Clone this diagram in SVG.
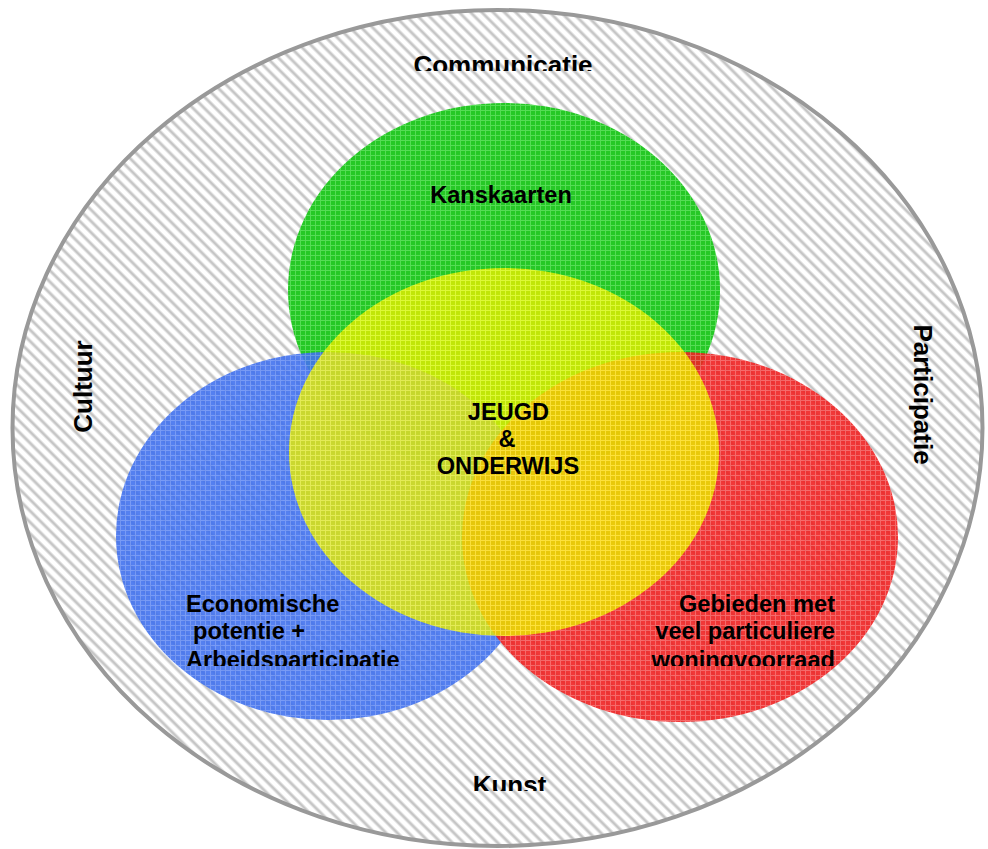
<svg xmlns="http://www.w3.org/2000/svg" width="988" height="849" viewBox="0 0 988 849">
  <defs>
    <pattern id="hatch" width="8" height="8" patternUnits="userSpaceOnUse" patternTransform="rotate(45)">
      <rect width="8" height="8" fill="#ffffff"/>
      <rect y="2.2" width="8" height="3.6" fill="#dedede"/>
      <rect y="3" width="8" height="2" fill="#c6c6c6"/>
    </pattern>
    <pattern id="pg" width="5" height="5" patternUnits="userSpaceOnUse">
      <rect width="5" height="5" fill="#26c826"/>
      <path d="M0 0.5H5M0.5 0V5" stroke="#55dc55" stroke-width="1"/>
    </pattern>
    <pattern id="pb" width="5" height="5" patternUnits="userSpaceOnUse">
      <rect width="5" height="5" fill="#4272ee"/>
      <path d="M0 0.5H5M0.5 0V5" stroke="#6a90f4" stroke-width="1"/>
    </pattern>
    <pattern id="pr" width="5" height="5" patternUnits="userSpaceOnUse">
      <rect width="5" height="5" fill="#ef2222"/>
      <path d="M0 0.5H5M0.5 0V5" stroke="#f55a5a" stroke-width="1"/>
    </pattern>
    <pattern id="py" width="5" height="5" patternUnits="userSpaceOnUse">
      <rect width="5" height="5" fill="#e8ee00"/>
      <path d="M0 0.5H5M0.5 0V5" stroke="#ffff30" stroke-width="1"/>
    </pattern>
    <clipPath id="clipTop"><rect x="0" y="0" width="988" height="71"/></clipPath>
    <clipPath id="clipMid"><rect x="0" y="0" width="988" height="666"/></clipPath>
    <clipPath id="clipBot"><rect x="0" y="0" width="988" height="791"/></clipPath>
  </defs>
  <style>
    text { font-family: "Liberation Sans", Arial, sans-serif; font-weight: bold; fill: #000; }
    .outer { font-size: 26px; }
    .inner { font-size: 23.6px; }
    .mid { text-anchor: middle; }
    .end { text-anchor: end; }
  </style>
  <rect width="988" height="849" fill="#ffffff"/>

  <g id="outer">
    <ellipse cx="497.5" cy="428" rx="485" ry="418" fill="url(#hatch)" stroke="#999999" stroke-width="4"/>
    <text class="outer mid" x="503" y="74" clip-path="url(#clipTop)">Communicatie</text>
    <text class="outer mid" transform="translate(92,386.5) rotate(-90)">Cultuur</text>
    <text class="outer mid" transform="translate(914,394.5) rotate(90)">Participatie</text>
    <text class="outer mid" x="509.5" y="794" clip-path="url(#clipBot)">Kunst</text>
  </g>

  <g id="green">
    <ellipse cx="504" cy="290" rx="216" ry="187" fill="url(#pg)"/>
  </g>
  <g id="blue">
    <ellipse cx="328" cy="536" rx="212" ry="184" fill="url(#pb)" opacity="0.9"/>
  </g>
  <g id="red">
    <ellipse cx="680" cy="537" rx="218" ry="185" fill="url(#pr)" opacity="0.9"/>
  </g>
  <g id="yellow">
    <ellipse cx="504" cy="452" rx="215" ry="184" fill="url(#py)" opacity="0.8"/>
  </g>

  <g id="labels">
    <text class="inner mid" x="501" y="203">Kanskaarten</text>
    <text class="inner mid" x="508.5" y="420">JEUGD</text>
    <text class="inner mid" x="507" y="447">&amp;</text>
    <text class="inner mid" x="508" y="474">ONDERWIJS</text>
    <text class="inner" x="186" y="612">Economische</text>
    <text class="inner" x="193" y="639">potentie +</text>
    <text class="inner" x="186" y="668" clip-path="url(#clipMid)">Arbeidsparticipatie</text>
    <text class="inner end" x="835" y="612">Gebieden met</text>
    <text class="inner end" x="835" y="639">veel particuliere</text>
    <text class="inner end" x="835" y="668" clip-path="url(#clipMid)">woningvoorraad</text>
  </g>
</svg>
